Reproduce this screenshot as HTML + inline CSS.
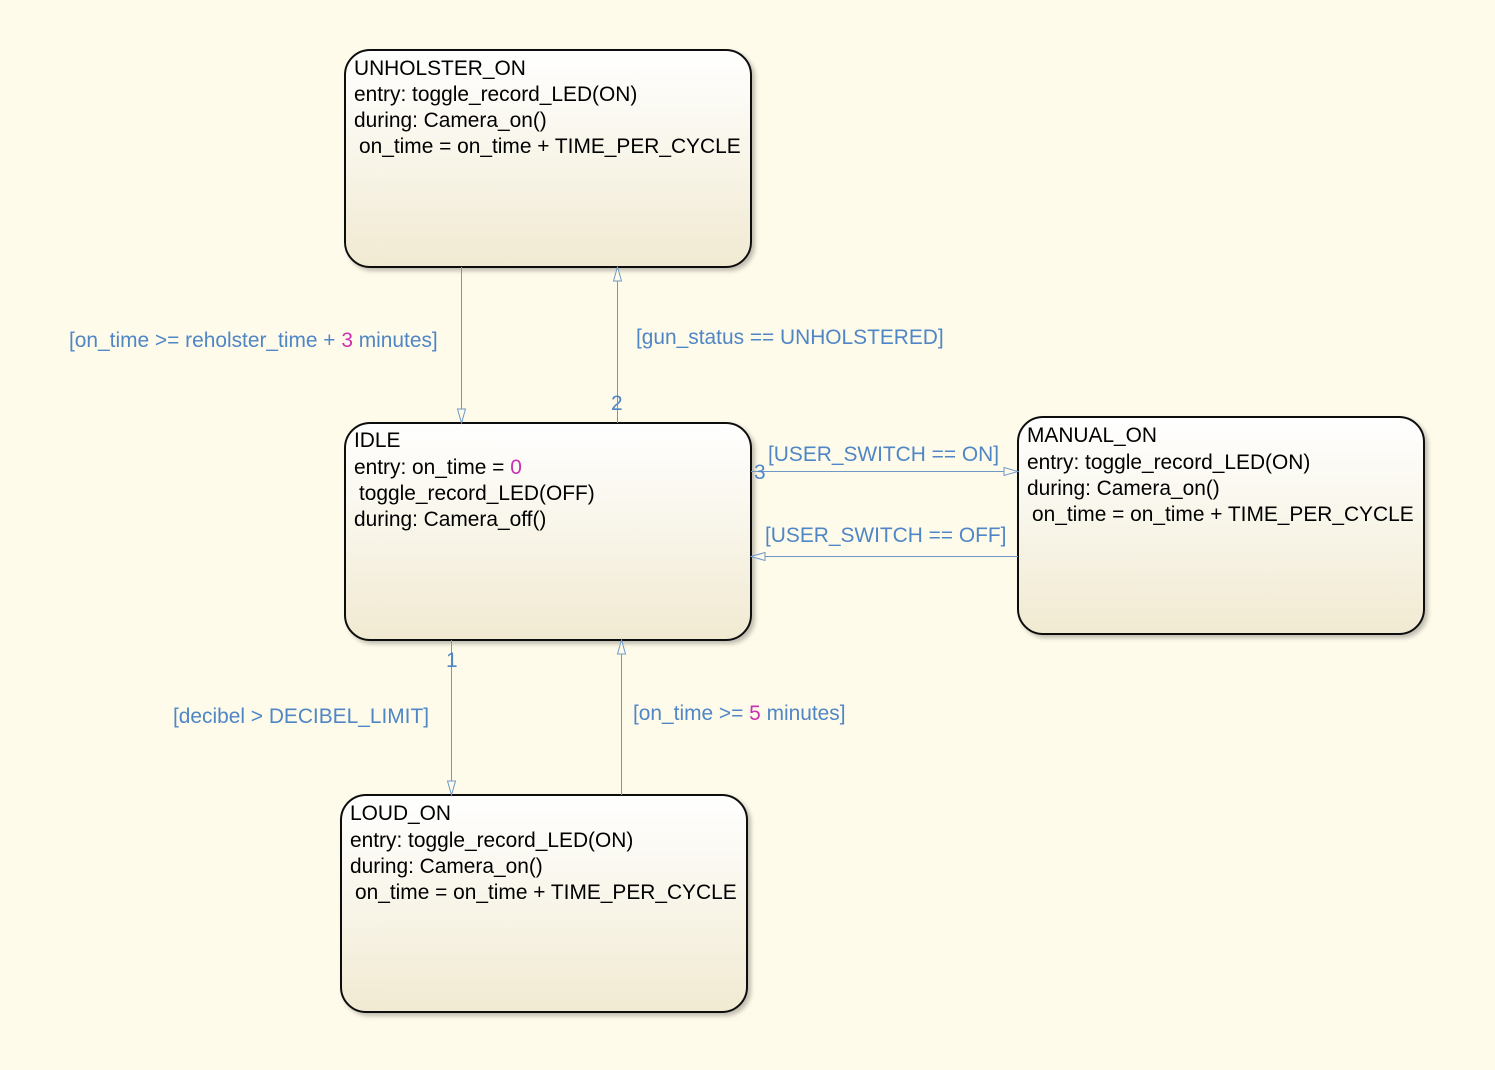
<!DOCTYPE html>
<html><head><meta charset="utf-8"><style>
html,body{margin:0;padding:0;background:#fffbea;}
svg{display:block;font-family:"Liberation Sans",Arial,sans-serif;}
.s{font-size:20.9px;fill:#000;}
.l{font-size:20.9px;fill:#4f86c6;}
.m{fill:#c832b4;}
</style></head><body>
<svg width="1495" height="1070" viewBox="0 0 1495 1070">
<defs>
<linearGradient id="g" x1="0" y1="0" x2="0" y2="1">
<stop offset="0" stop-color="#ffffff"/><stop offset="1" stop-color="#f1ead2"/>
</linearGradient>
<filter id="sh" x="-5%" y="-5%" width="115%" height="115%"><feDropShadow dx="3" dy="3" stdDeviation="2" flood-color="#000" flood-opacity="0.25"/></filter>
</defs>
<rect width="1495" height="1070" fill="#fffbea"/>
<g fill="url(#g)" stroke="#111" stroke-width="2" filter="url(#sh)">
<rect x="345" y="50" width="406" height="217" rx="25"/>
<rect x="345" y="423" width="406" height="217" rx="25"/>
<rect x="1018" y="417" width="406" height="217" rx="25"/>
<rect x="341" y="795" width="406" height="217" rx="25"/>
</g>
<g class="s">
<text x="354" y="75">UNHOLSTER_ON</text>
<text x="354" y="101">entry: toggle_record_LED(ON)</text>
<text x="354" y="127">during: Camera_on()</text>
<text x="359" y="153">on_time = on_time + TIME_PER_CYCLE</text>
<text x="354" y="447">IDLE</text>
<text x="354" y="474">entry: on_time = <tspan class="m">0</tspan></text>
<text x="359" y="500">toggle_record_LED(OFF)</text>
<text x="354" y="526">during: Camera_off()</text>
<text x="1027" y="442">MANUAL_ON</text>
<text x="1027" y="469">entry: toggle_record_LED(ON)</text>
<text x="1027" y="495">during: Camera_on()</text>
<text x="1032" y="521">on_time = on_time + TIME_PER_CYCLE</text>
<text x="350" y="820">LOUD_ON</text>
<text x="350" y="847">entry: toggle_record_LED(ON)</text>
<text x="350" y="873">during: Camera_on()</text>
<text x="355" y="899">on_time = on_time + TIME_PER_CYCLE</text>
</g>
<g stroke="#6f98c8" stroke-width="1" fill="none">
<line x1="461.5" y1="267" x2="461.5" y2="423"/>
<line x1="617.5" y1="423" x2="617.5" y2="267"/>
<line x1="751" y1="471.5" x2="1018" y2="471.5"/>
<line x1="1018" y1="556.5" x2="751" y2="556.5"/>
<line x1="451.5" y1="640" x2="451.5" y2="795"/>
<line x1="621.5" y1="795" x2="621.5" y2="640"/>
</g>
<g fill="#fffbea" stroke="#6f98c8" stroke-width="1">
<polygon points="457.5,409 465.5,409 461.5,423"/>
<polygon points="613.5,281 621.5,281 617.5,267"/>
<polygon points="1004,467.5 1004,475.5 1018,471.5"/>
<polygon points="765,552.5 765,560.5 751,556.5"/>
<polygon points="447.5,781 455.5,781 451.5,795"/>
<polygon points="617.5,654 625.5,654 621.5,640"/>
</g>
<g class="l">
<text x="69" y="347">[on_time &gt;= reholster_time + <tspan class="m">3</tspan> minutes]</text>
<text x="636" y="344">[gun_status == UNHOLSTERED]</text>
<text x="611" y="410">2</text>
<text x="768" y="461">[USER_SWITCH == ON]</text>
<text x="754" y="479">3</text>
<text x="765" y="542">[USER_SWITCH == OFF]</text>
<text x="446" y="667">1</text>
<text x="173" y="723">[decibel &gt; DECIBEL_LIMIT]</text>
<text x="633" y="720">[on_time &gt;= <tspan class="m">5</tspan> minutes]</text>
</g>
</svg>
</body></html>
